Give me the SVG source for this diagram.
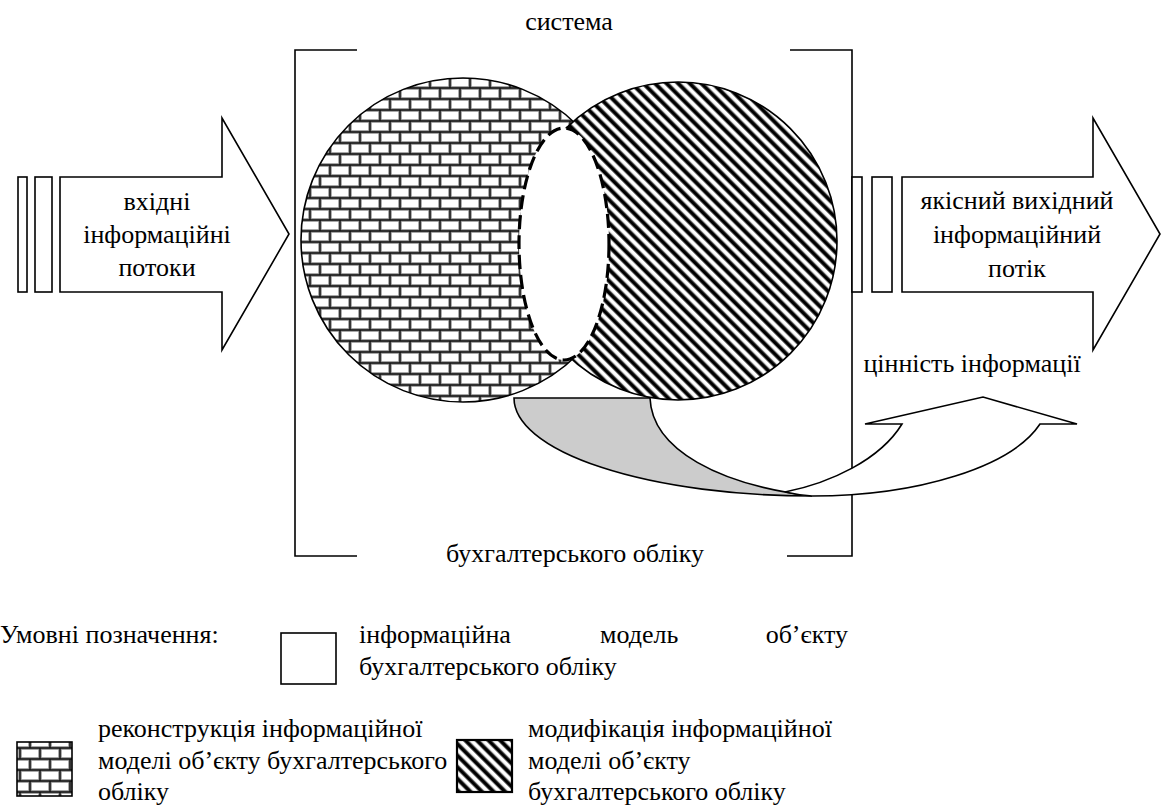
<svg xmlns="http://www.w3.org/2000/svg" width="1167" height="807" viewBox="0 0 1167 807" font-family="'Liberation Serif', 'DejaVu Serif', serif">
<style>
text{font-family:"Liberation Serif","DejaVu Serif",serif;font-size:26px;fill:#000}
.c{text-anchor:middle}
.ln{fill:none;stroke:#000;stroke-width:1.6}
.sh{stroke:#000;stroke-width:1.6}
</style>
<defs>
<pattern id="brick" patternUnits="userSpaceOnUse" width="20" height="22">
<rect width="20" height="22" fill="#fff"/>
<g stroke="#8c8c8c" stroke-width="3.4" fill="none">
<path d="M0,0H20M0,11H20M0,22H20M0,0V11M20,0V11M10,11V22"/>
</g>
<g stroke="#111" stroke-width="1.4" fill="none">
<path d="M0,0H20M0,11H20M0,22H20M0,0V11M20,0V11M10,11V22"/>
</g>
</pattern>
<pattern id="hatch" patternUnits="userSpaceOnUse" width="8.2" height="8.2" patternTransform="rotate(-45)">
<rect width="8.2" height="8.2" fill="#fff"/>
<rect x="0" width="4.8" height="8.2" fill="#808080"/>
<rect x="0.8" width="3.2" height="8.2" fill="#000"/>
</pattern>
</defs>

<g id="title">
<text class="c" x="569" y="30">система</text>
</g>

<g id="bracket">
<path class="ln" d="M357,50H295V556H357"/>
<path class="ln" d="M790,50H852V556H787"/>
<text class="c" x="575" y="562">бухгалтерського обліку</text>
</g>

<g id="input-arrow">
<rect class="sh" x="18" y="177" width="9" height="115" fill="#fff"/>
<rect class="sh" x="35" y="177" width="17" height="115" fill="#fff"/>
<path class="sh" fill="#fff" d="M60,177H222V118L289,234L222,350V292H60Z"/>
<text class="c" x="157" y="210">вхідні</text>
<text class="c" x="157" y="243">інформаційні</text>
<text class="c" x="157" y="276">потоки</text>
</g>

<g id="output-arrow">
<rect class="sh" x="852" y="177" width="10" height="115" fill="#fff"/>
<rect class="sh" x="872" y="177" width="20" height="115" fill="#fff"/>
<path class="sh" fill="#fff" d="M902,177H1093V118L1160,234L1093,350V292H902Z"/>
<text class="c" x="1017" y="209">якісний вихідний</text>
<text class="c" x="1017" y="243">інформаційний</text>
<text class="c" x="1017" y="277">потік</text>
</g>

<g id="reconstruction-circle">
<circle class="sh" cx="463" cy="240" r="162" fill="url(#brick)"/>
</g>
<g id="modification-circle">
<circle class="sh" cx="678" cy="241" r="159" fill="url(#hatch)"/>
</g>
<g id="information-model">
<ellipse cx="564" cy="244" rx="45" ry="116" fill="#fff" stroke="#000" stroke-width="3.2" stroke-dasharray="14 6"/>
</g>

<g id="connectors">
<path class="sh" fill="#ccc" d="M514,398L650,398C652,450 720,485 812,496A298,98 0 0 1 514,398Z"/>
<path class="sh" fill="#fff" d="M785,492C830,483 880,460 902,424L865,424L983,397L1077,424L1040,424A236,98 0 0 1 812,496Q798,495 785,492Z"/>
</g>

<g id="value-label">
<text class="c" x="972" y="372">цінність інформації</text>
</g>

<g id="legend">
<text x="0" y="643">Умовні позначення:</text>
<rect class="sh" x="281" y="633" width="55" height="51" fill="#fff"/>
<text x="359" y="643">інформаційна</text>
<text x="600" y="643">модель</text>
<text x="848" y="643" text-anchor="end">об’єкту</text>
<text x="359" y="675">бухгалтерського обліку</text>

<rect class="sh" x="17" y="742" width="55" height="54" fill="url(#brick)"/>
<text x="98" y="737">реконструкція інформаційної</text>
<text x="98" y="769">моделі об’єкту бухгалтерського</text>
<text x="98" y="800">обліку</text>

<rect x="457" y="740" width="55" height="52" fill="url(#hatch)" stroke="#000" stroke-width="2.2"/>
<text x="528" y="737">модифікація  інформаційної</text>
<text x="528" y="769">моделі об’єкту</text>
<text x="528" y="800">бухгалтерського обліку</text>
</g>
</svg>
